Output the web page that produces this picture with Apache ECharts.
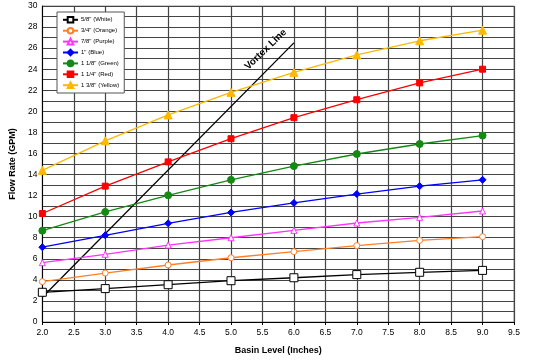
<!DOCTYPE html>
<html><head><meta charset="utf-8">
<script src="https://cdn.jsdelivr.net/npm/echarts@6/dist/echarts.min.js"></script>
<style>html,body{margin:0;padding:0;background:#fff}#c{width:533px;height:360px}</style>
</head><body><div id="c"></div>
<script>
const basinLevels = [2, 3, 4, 5, 6, 7, 8, 9];
const seriesNames = ['5/8" (White)', '3/4" (Orange)', '7/8" (Purple)', '1" (Blue)', '1 1/8" (Green)', '1 1/4" (Red)', '1 3/8" (Yellow)'];
const white  = [2.82, 3.17, 3.54, 3.92, 4.20, 4.50, 4.72, 4.90];
const orange = [3.83, 4.65, 5.41, 6.10, 6.68, 7.25, 7.75, 8.10];
const purple = [5.63, 6.43, 7.30, 8.00, 8.70, 9.40, 9.94, 10.54];
const blue   = [7.10, 8.23, 9.37, 10.40, 11.30, 12.15, 12.90, 13.50];
const green  = [8.67, 10.45, 12.03, 13.50, 14.80, 15.95, 16.90, 17.70];
const red    = [10.30, 12.90, 15.20, 17.40, 19.40, 21.10, 22.70, 24.00];
const yellow = [14.40, 17.20, 19.66, 21.80, 23.70, 25.35, 26.70, 27.70];
const vortexX = [2.0, 6.0];
const vortexY = [2.35, 26.5];
const vortexLabel = 'Vortex Line';
const xTicks = [2.0, 2.5, 3.0, 3.5, 4.0, 4.5, 5.0, 5.5, 6.0, 6.5, 7.0, 7.5, 8.0, 8.5, 9.0, 9.5];
const yTicks = [0, 2, 4, 6, 8, 10, 12, 14, 16, 18, 20, 22, 24, 26, 28, 30];

const values = [white, orange, purple, blue, green, red, yellow];
const styles = [
  {color: '#000000', symbol: 'rect', size: 8, hollow: true},
  {color: '#ff7f27', symbol: 'circle', size: 6, hollow: true},
  {color: '#ff33ff', symbol: 'triangle', size: 6, hollow: true},
  {color: '#0000ff', symbol: 'diamond', size: 7, hollow: false},
  {color: '#138a13', symbol: 'circle', size: 7, hollow: false},
  {color: '#ff0000', symbol: 'rect', size: 6, hollow: false},
  {color: '#ffb800', symbol: 'triangle', size: 8, hollow: false}
];

const series = values.map((v, i) => ({
  name: seriesNames[i],
  type: 'line',
  data: basinLevels.map((x, j) => [x, v[j]]),
  symbol: styles[i].symbol,
  symbolSize: styles[i].size,
  showAllSymbol: true,
  lineStyle: {color: styles[i].color, width: 1.3},
  itemStyle: styles[i].hollow
    ? {color: '#fff', borderColor: styles[i].color, borderWidth: 1}
    : {color: styles[i].color, borderColor: styles[i].color, borderWidth: 1},
  emphasis: {disabled: true},
  z: 3 + i
}));

series.push({
  name: vortexLabel,
  type: 'line',
  data: vortexX.map((x, j) => [x, vortexY[j]]),
  symbol: 'circle',
  symbolSize: 1,
  showSymbol: true,
  itemStyle: {color: 'rgba(0,0,0,0)'},
  label: {
    show: true,
    formatter: p => p.dataIndex === vortexX.length - 1 ? vortexLabel : '',
    rotate: 44, position: 'left', offset: [6, -6], align: 'right', verticalAlign: 'bottom',
    fontSize: 10, fontWeight: 'bold', color: '#000', fontFamily: 'Liberation Sans'
  },
  lineStyle: {color: '#000', width: 1.3},
  emphasis: {disabled: true},
  z: 2
});

const chart = echarts.init(document.getElementById('c'), null, {renderer: 'canvas'});
chart.setOption({
  animation: false,
  backgroundColor: '#fff',
  textStyle: {fontFamily: 'Liberation Sans'},
  grid: {left: 27, right: 19, top: 6, bottom: 38, show: true, borderColor: '#999', borderWidth: 1},
  legend: {
    data: seriesNames,
    orient: 'vertical', left: 57, top: 12,
    padding: [4, 5, 4, 5],
    itemGap: 3.3, itemWidth: 15, itemHeight: 7,
    borderColor: '#555', borderWidth: 1, backgroundColor: '#fff',
    textStyle: {fontSize: 6, color: '#000', fontFamily: 'Liberation Sans', padding: [0, 0, 0, -2]}
  },
  xAxis: {
    type: 'value', min: 2, max: 9.5, interval: 0.5,
    name: 'Basin Level (Inches)', nameLocation: 'middle', nameGap: 24,
    nameTextStyle: {fontSize: 9, fontWeight: 'bold', color: '#000'},
    axisLine: {show: true, lineStyle: {color: '#000', width: 1}},
    axisTick: {show: true, length: 3, lineStyle: {color: '#000'}},
    axisLabel: {fontSize: 8.5, color: '#000', margin: 6,
      formatter: v => xTicks.indexOf(v) >= 0 ? v.toFixed(1) : ''},
    splitLine: {show: true, lineStyle: {color: '#444', width: 1.2}}
  },
  yAxis: {
    type: 'value', min: 0, max: 30, interval: 1,
    name: 'Flow Rate (GPM)', nameLocation: 'middle', nameGap: 16, nameRotate: 90,
    nameTextStyle: {fontSize: 9, fontWeight: 'bold', color: '#000'},
    axisLine: {show: true, lineStyle: {color: '#000', width: 1}},
    axisTick: {show: false},
    axisLabel: {fontSize: 8.5, color: '#000', margin: 5,
      formatter: v => yTicks.indexOf(v) >= 0 ? String(v) : ''},
    splitLine: {show: true, lineStyle: {color: '#444', width: 1.2}}
  },
  series: series
});
</script>
</body></html>
